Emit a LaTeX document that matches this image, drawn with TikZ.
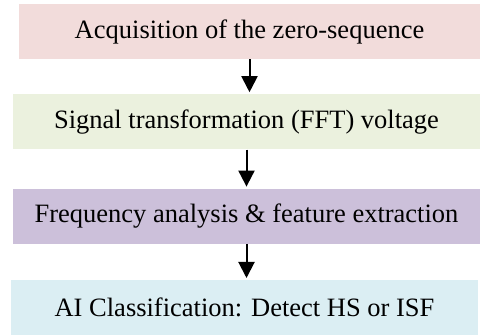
\documentclass[tikz,border=0pt]{standalone}
\usepackage{fontspec}
\setmainfont{Liberation Serif}
\usetikzlibrary{positioning,arrows.meta}
\definecolor{acqpink}{HTML}{F2DCDB}
\definecolor{fftgreen}{HTML}{EBF1DE}
\definecolor{featpurple}{HTML}{CCC0DA}
\definecolor{aiblue}{HTML}{DBEEF3}
\begin{document}
\begin{tikzpicture}[
    stage/.style={minimum width=#1, minimum height=55pt, inner sep=0pt, align=center, font=\fontsize{26.5}{30}\selectfont},
    flow/.style={line width=2pt, -{Triangle[width=16pt,length=16pt]}, shorten >=2pt}
  ]
    \useasboundingbox (0,0) rectangle (484pt,-336pt);
    \node [stage=461pt, fill=acqpink] (acq) at (249.5pt,-31.5pt) {Acquisition of the zero-sequence};
    \node [stage=467pt, fill=fftgreen, below=35pt of acq, xshift=-3pt] (fft) {Signal transformation (FFT) voltage};
    \node [stage=467pt, fill=featpurple, below=39pt of fft] (feat) {Frequency analysis \& feature extraction};
    \node [stage=467pt, fill=aiblue, below=36pt of feat, xshift=-2pt] (ai) {AI Classification: Detect HS or ISF};
    \draw [flow] (acq.south) -- (acq.south |- fft.north);
    \draw [flow] (fft.south) -- (fft.south |- feat.north);
    \draw [flow] (feat.south) -- (feat.south |- ai.north);
  \end{tikzpicture}
\end{document}
